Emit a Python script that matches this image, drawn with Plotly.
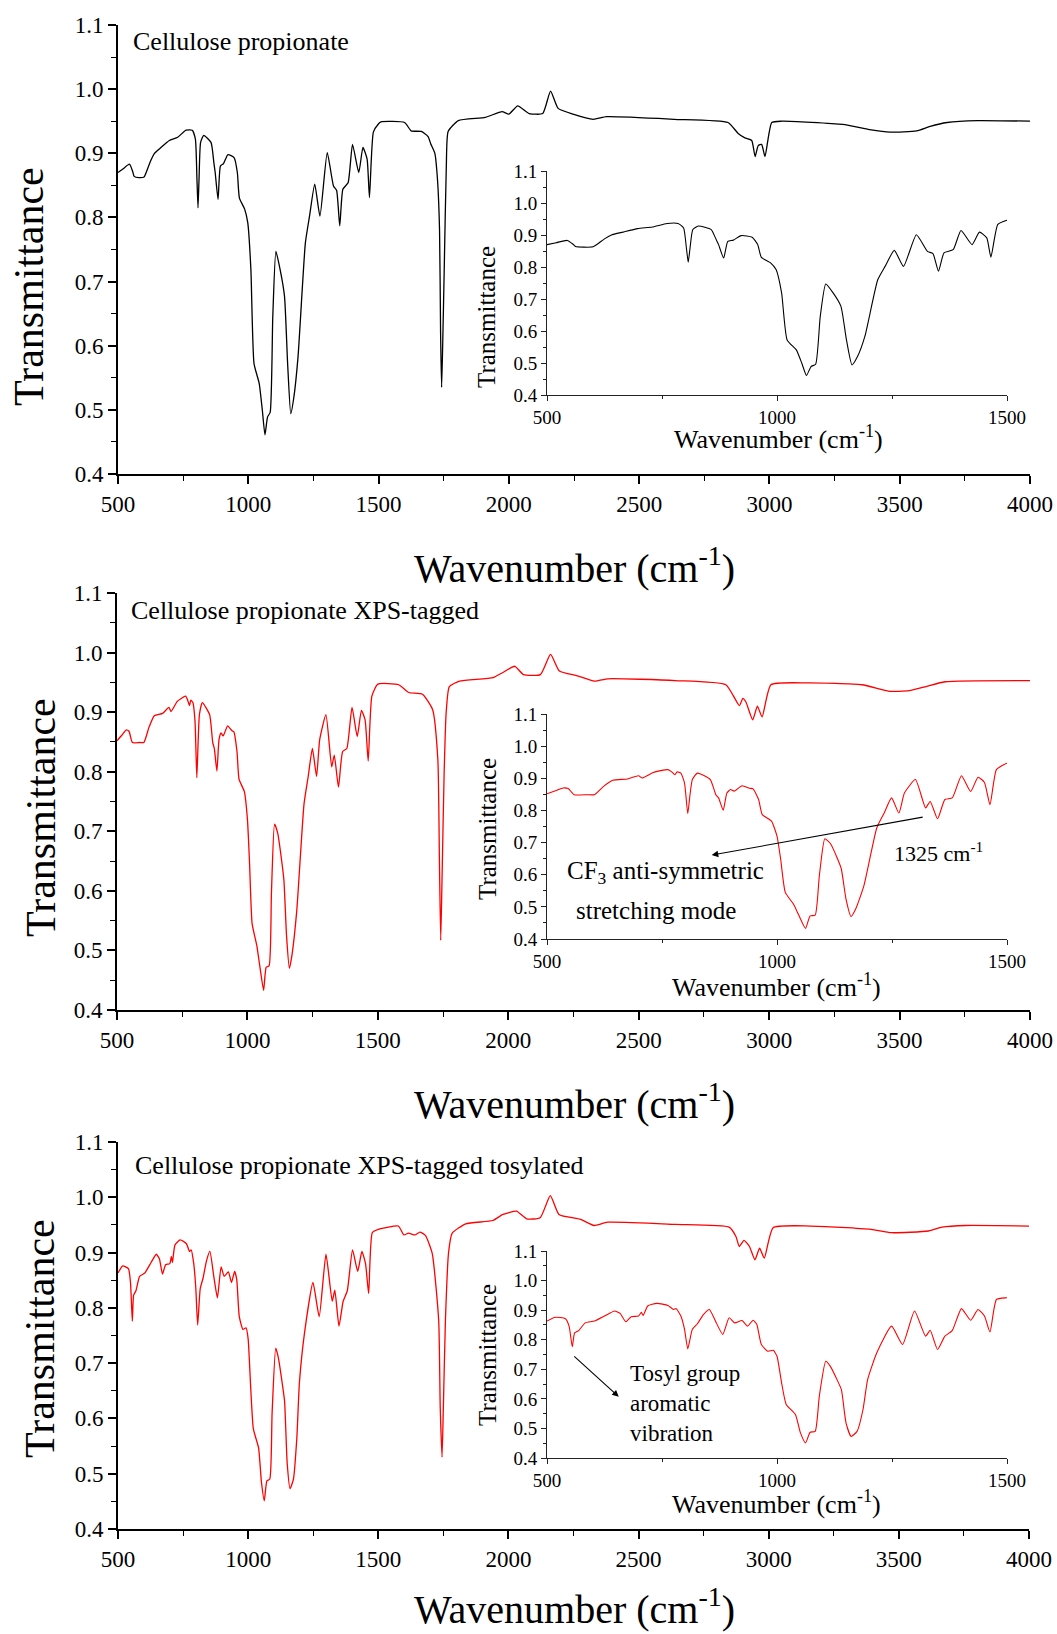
import plotly.graph_objects as go

# ---------------- data ----------------
wn_cp = [500, 520, 544, 556, 562, 580, 600, 610, 625, 640, 665, 697, 729, 761, 785, 797, 803, 807, 811, 817,
         829, 857, 868, 873, 884, 893, 905, 922, 946, 958, 966, 986, 998, 1010, 1022, 1042, 1054, 1064, 1074, 1084,
         1094, 1106, 1122, 1139, 1151, 1163, 1175, 1191, 1219, 1235, 1255, 1275, 1303, 1327, 1339, 1351, 1363, 1383,
         1400, 1424, 1440, 1456, 1465, 1480, 1500, 1509, 1600, 1625, 1664, 1690, 1700, 1716, 1726, 1734, 1738, 1742,
         1746, 1752, 1760, 1767, 1806, 1910, 1974, 2000, 2034, 2078, 2130, 2160, 2189, 2246, 2324, 2375, 2634, 2841,
         2880, 2906, 2932, 2945, 2957, 2970, 2983, 3009, 3048, 3281, 3384, 3462, 3565, 3617, 3682, 3798, 4000]
tr_cp = [0.870, 0.876, 0.883, 0.872, 0.864, 0.862, 0.863, 0.872, 0.888, 0.900, 0.909, 0.920, 0.925, 0.936, 0.936,
         0.922, 0.860, 0.815, 0.860, 0.917, 0.928, 0.917, 0.885, 0.870, 0.828, 0.880, 0.884, 0.898, 0.893, 0.870,
         0.830, 0.813, 0.792, 0.719, 0.572, 0.541, 0.499, 0.461, 0.489, 0.496, 0.645, 0.747, 0.719, 0.677, 0.572,
         0.494, 0.520, 0.583, 0.760, 0.802, 0.852, 0.802, 0.901, 0.849, 0.842, 0.787, 0.844, 0.854, 0.914, 0.870,
         0.909, 0.891, 0.831, 0.933, 0.946, 0.949, 0.948, 0.935, 0.934, 0.926, 0.915, 0.900, 0.860, 0.780, 0.620,
         0.535, 0.600, 0.720, 0.880, 0.934, 0.951, 0.956, 0.965, 0.961, 0.974, 0.962, 0.962, 0.997, 0.970, 0.961,
         0.953, 0.957, 0.953, 0.948, 0.931, 0.924, 0.920, 0.895, 0.912, 0.914, 0.895, 0.948, 0.950, 0.945, 0.937,
         0.933, 0.935, 0.942, 0.948, 0.951, 0.950]

wn_xps = [500, 520, 535, 546, 559, 587, 603, 623, 643, 675, 699, 707, 731, 763, 771, 778, 783, 791, 799, 806,
          811, 816, 827, 855, 867, 873, 883, 891, 899, 907, 924, 940, 948, 960, 968, 988, 1000, 1008, 1018, 1036,
          1048, 1062, 1072, 1083, 1092, 1104, 1116, 1132, 1140, 1150, 1161, 1171, 1189, 1217, 1233, 1249, 1265,
          1277, 1301, 1323, 1333, 1349, 1365, 1381, 1401, 1421, 1437, 1451, 1463, 1477, 1500, 1580, 1619, 1671,
          1710, 1730, 1736, 1741, 1746, 1754, 1762, 1774, 1813, 1942, 1981, 2025, 2058, 2123, 2162, 2196, 2265,
          2330, 2382, 2640, 2834, 2886, 2899, 2911, 2937, 2955, 2973, 3007, 3149, 3356, 3460, 3537, 3602, 3674, 4000]
tr_xps = [0.852, 0.862, 0.870, 0.868, 0.849, 0.849, 0.849, 0.875, 0.894, 0.898, 0.908, 0.901, 0.918, 0.927, 0.920,
          0.911, 0.920, 0.916, 0.885, 0.790, 0.850, 0.896, 0.916, 0.896, 0.849, 0.839, 0.801, 0.854, 0.865, 0.860,
          0.877, 0.869, 0.867, 0.834, 0.787, 0.767, 0.720, 0.648, 0.545, 0.508, 0.472, 0.433, 0.472, 0.474, 0.596,
          0.712, 0.697, 0.648, 0.617, 0.524, 0.470, 0.493, 0.566, 0.746, 0.792, 0.839, 0.792, 0.854, 0.896, 0.808,
          0.828, 0.774, 0.834, 0.839, 0.908, 0.859, 0.903, 0.887, 0.818, 0.927, 0.947, 0.946, 0.933, 0.930, 0.904,
          0.820, 0.650, 0.517, 0.620, 0.796, 0.900, 0.943, 0.952, 0.958, 0.967, 0.977, 0.963, 0.963, 0.997, 0.969,
          0.961, 0.952, 0.956, 0.953, 0.946, 0.911, 0.923, 0.917, 0.887, 0.910, 0.892, 0.946, 0.949, 0.946, 0.935,
          0.936, 0.943, 0.951, 0.953]

wn_tos = [500, 518, 540, 548, 555, 560, 569, 583, 603, 627, 647, 659, 671, 683, 699, 705, 709, 719, 739, 763,
          775, 781, 791, 799, 806, 816, 827, 840, 853, 868, 882, 896, 908, 924, 936, 948, 956, 966, 980, 992,
          1000, 1010, 1020, 1040, 1051, 1062, 1072, 1083, 1092, 1106, 1116, 1132, 1140, 1150, 1161, 1174, 1187,
          1197, 1217, 1249, 1273, 1299, 1323, 1333, 1349, 1365, 1381, 1401, 1421, 1437, 1451, 1463, 1477, 1500,
          1577, 1598, 1616, 1642, 1660, 1681, 1707, 1732, 1738, 1745, 1750, 1758, 1770, 1784, 1836, 1940, 1979,
          2031, 2070, 2122, 2161, 2194, 2277, 2329, 2381, 2641, 2848, 2874, 2887, 2905, 2926, 2947, 2965, 2983,
          3017, 3160, 3393, 3471, 3614, 3666, 3756, 4000]
tr_tos = [0.863, 0.876, 0.871, 0.846, 0.776, 0.823, 0.831, 0.857, 0.863, 0.882, 0.897, 0.889, 0.861, 0.878, 0.880,
          0.893, 0.882, 0.914, 0.923, 0.916, 0.902, 0.905, 0.880, 0.835, 0.769, 0.835, 0.854, 0.885, 0.902, 0.857,
          0.818, 0.874, 0.857, 0.865, 0.846, 0.866, 0.852, 0.784, 0.761, 0.764, 0.744, 0.654, 0.581, 0.547, 0.485,
          0.451, 0.487, 0.490, 0.609, 0.727, 0.710, 0.660, 0.631, 0.519, 0.473, 0.490, 0.564, 0.665, 0.756, 0.846,
          0.784, 0.897, 0.812, 0.832, 0.767, 0.812, 0.831, 0.905, 0.866, 0.902, 0.880, 0.826, 0.936, 0.942, 0.948,
          0.932, 0.935, 0.932, 0.937, 0.931, 0.899, 0.778, 0.620, 0.530, 0.620, 0.778, 0.900, 0.935, 0.952, 0.958,
          0.969, 0.975, 0.961, 0.963, 1.003, 0.969, 0.960, 0.949, 0.955, 0.951, 0.946, 0.929, 0.911, 0.922, 0.911,
          0.887, 0.908, 0.890, 0.945, 0.948, 0.942, 0.936, 0.939, 0.946, 0.949, 0.948]

panel_labels = ["Cellulose propionate", "Cellulose propionate XPS-tagged",
                "Cellulose propionate XPS-tagged tosylated"]
series = [(wn_cp, tr_cp, "black"), (wn_xps, tr_xps, "#ff0000"), (wn_tos, tr_tos, "#ff0000")]

main_range = [500, 4000]
inset_range = [500, 1500]
t_range = [0.4, 1.1]

# ---------------- layout geometry ----------------
W, H = 1057, 1634
FONT = "Liberation Serif"


def px(x):
    return x / W


def py(y):
    return 1 - y / H


main_dom = [((118, 1030), (25, 474)), ((117, 1030), (593, 1010)), ((118, 1029), (1142, 1529))]
inset_dom = [((547, 1007), (171, 395)), ((547, 1007), (714, 939)), ((547, 1007), (1251, 1458))]

fig = go.Figure()
layout = dict(template="none", width=W, height=H, autosize=False,
              margin=dict(l=0, r=0, t=0, b=0, pad=0),
              paper_bgcolor="white", plot_bgcolor="rgba(0,0,0,0)",
              showlegend=False, font=dict(family=FONT, color="black"))

annotations = []
for i, ((wn, tr, col), lab) in enumerate(zip(series, panel_labels)):
    mi = 2 * i + 1
    ii = 2 * i + 2
    mx = "x" if mi == 1 else f"x{mi}"
    my = "y" if mi == 1 else f"y{mi}"
    ix, iy = f"x{ii}", f"y{ii}"
    fig.add_trace(go.Scatter(x=wn, y=tr, mode="lines",
                             line=dict(color=col, width=1.3, shape="spline", smoothing=0.5),
                             xaxis=mx, yaxis=my, hoverinfo="skip"))
    fig.add_trace(go.Scatter(x=wn, y=tr, mode="lines",
                             line=dict(color=col, width=1.1, shape="spline", smoothing=0.5),
                             xaxis=ix, yaxis=iy, hoverinfo="skip"))
    (mx0, mx1), (my0, my1) = main_dom[i]
    (ix0, ix1), (iy0, iy1) = inset_dom[i]
    mkx = "xaxis" if mi == 1 else f"xaxis{mi}"
    mky = "yaxis" if mi == 1 else f"yaxis{mi}"
    layout[mkx] = dict(domain=[px(mx0), px(mx1)], anchor=my, range=main_range, showgrid=False,
                       automargin=False, zeroline=False, showline=True, linecolor="black", linewidth=2,
                       ticks="outside", ticklen=8, tickwidth=1.5, tickcolor="black", dtick=500, tick0=500,
                       minor=dict(ticks="outside", ticklen=5, dtick=250, tickcolor="black", tickwidth=1.3),
                       tickfont=dict(family=FONT, size=23, color="black"))
    layout[mky] = dict(domain=[py(my1), py(my0)], anchor=mx, range=t_range, showgrid=False,
                       automargin=False, zeroline=False, showline=True, linecolor="black", linewidth=1.6,
                       ticks="outside", ticklen=8, tickwidth=1.5, tickcolor="black", dtick=0.1, tick0=0.4,
                       tickformat=".1f",
                       minor=dict(ticks="outside", ticklen=5, dtick=0.05, tickcolor="black", tickwidth=1.3),
                       tickfont=dict(family=FONT, size=23, color="black"))
    layout[f"xaxis{ii}"] = dict(domain=[px(ix0), px(ix1)], anchor=iy, range=inset_range, showgrid=False,
                                automargin=False, zeroline=False, showline=True, linecolor="#222",
                                linewidth=1, ticks="outside", ticklen=5, tickwidth=1, tickcolor="#222",
                                dtick=500, tick0=500,
                                minor=dict(ticks="outside", ticklen=3, dtick=250, tickcolor="#222"),
                                tickfont=dict(family=FONT, size=19, color="black"))
    layout[f"yaxis{ii}"] = dict(domain=[py(iy1), py(iy0)], anchor=ix, range=t_range, showgrid=False,
                                automargin=False, zeroline=False, showline=True, linecolor="#222",
                                linewidth=1, ticks="outside", ticklen=5, tickwidth=1, tickcolor="#222",
                                dtick=0.1, tick0=0.4, tickformat=".1f",
                                minor=dict(ticks="outside", ticklen=3, dtick=0.05, tickcolor="#222"),
                                tickfont=dict(family=FONT, size=19, color="black"))
    # panel label
    lab_pos = [(131, 41), (129, 610), (133, 1165)][i]
    annotations.append(dict(text=lab, xref="paper", yref="paper", x=px(lab_pos[0]), y=py(lab_pos[1]),
                            xanchor="left", yanchor="middle", showarrow=False,
                            font=dict(family=FONT, size=26, color="black")))
    # main axis titles
    ytit = [(29, 287), (41, 818), (40, 1339)][i]
    annotations.append(dict(text="Transmittance", xref="paper", yref="paper", x=px(ytit[0]), y=py(ytit[1]),
                            textangle=-90, showarrow=False, xanchor="center", yanchor="middle",
                            font=dict(family=FONT, size=42, color="black")))
    xtit = [(574, 565), (574, 1101), (574, 1606)][i]
    annotations.append(dict(text="Wavenumber (cm<sup>-1</sup>)", xref="paper", yref="paper",
                            x=px(xtit[0]), y=py(xtit[1]), showarrow=False, xanchor="center",
                            yanchor="middle", font=dict(family=FONT, size=40, color="black")))
    # inset axis titles
    iyt = [(487, 317), (487, 829), (487, 1355)][i]
    annotations.append(dict(text="Transmittance", xref="paper", yref="paper", x=px(iyt[0]), y=py(iyt[1]),
                            textangle=-90, showarrow=False, xanchor="center", yanchor="middle",
                            font=dict(family=FONT, size=25, color="black")))
    ixt = [(778, 437), (776, 985), (776, 1502)][i]
    annotations.append(dict(text="Wavenumber (cm<sup>-1</sup>)", xref="paper", yref="paper",
                            x=px(ixt[0]), y=py(ixt[1]), showarrow=False, xanchor="center",
                            yanchor="middle", font=dict(family=FONT, size=26, color="black")))

# inset annotations (panel 2: CF3 band, panel 3: tosyl band)
annotations += [
    dict(xref="x4", yref="y4", x=858, y=0.661, ax=1320, ay=0.780, axref="x4", ayref="y4",
         showarrow=True, arrowhead=2, arrowsize=1.2, arrowwidth=1.1, arrowcolor="black", text=""),
    dict(xref="x4", yref="y4", x=1350, y=0.671, text="1325 cm<sup>-1</sup>", showarrow=False,
         font=dict(family=FONT, size=22, color="black")),
    dict(xref="x4", yref="y4", x=758, y=0.607, text="CF<sub>3</sub> anti-symmetric", showarrow=False,
         font=dict(family=FONT, size=25, color="black")),
    dict(xref="x4", yref="y4", x=737, y=0.490, text="stretching mode", showarrow=False,
         font=dict(family=FONT, size=25, color="black")),
    dict(xref="x6", yref="y6", x=656, y=0.607, ax=556, ay=0.748, axref="x6", ayref="y6",
         showarrow=True, arrowhead=2, arrowsize=1.2, arrowwidth=1.1, arrowcolor="black", text=""),
    dict(xref="x6", yref="y6", x=677, y=0.586, text="Tosyl group<br>aromatic<br>vibration",
         showarrow=False, xanchor="left", yanchor="middle", align="left",
         font=dict(family=FONT, size=23, color="black")),
]
layout["annotations"] = annotations
fig.update_layout(**layout)
fig.write_html("out.html")
